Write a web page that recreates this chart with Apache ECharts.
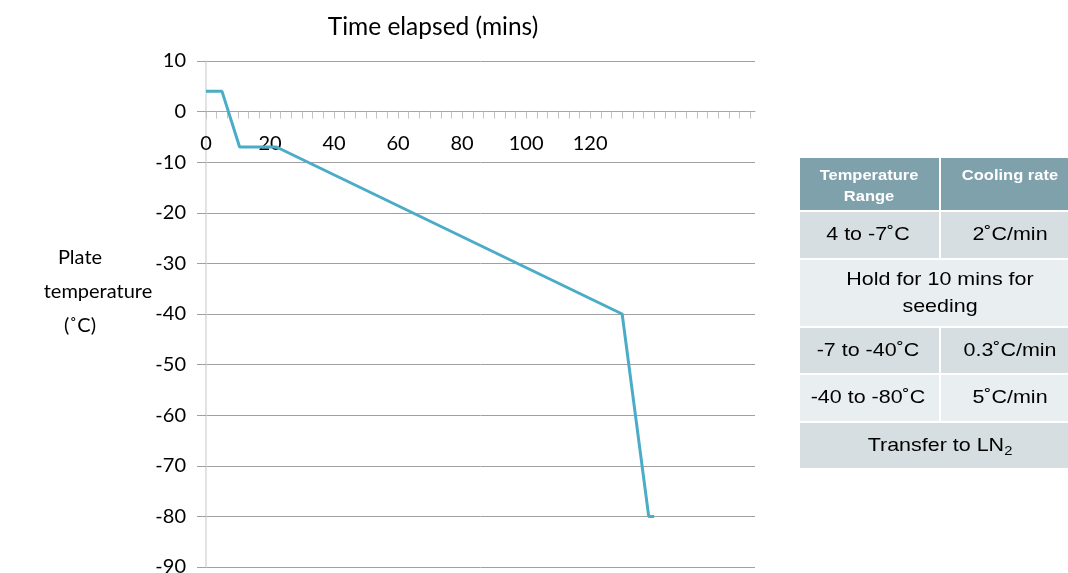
<!DOCTYPE html>
<html>
<head>
<meta charset="utf-8">
<script src="https://cdn.jsdelivr.net/npm/echarts@6/dist/echarts.min.js"></script>
<style>html,body{margin:0;padding:0;background:#fff}#c{width:1068px;height:573px}</style>
</head>
<body>
<div id="c"></div>
<script>
// Data
var timeMins = [0, 5, 10.5, 22, 130, 138.3, 140];
var plateTemp = [4, 4, -7, -7, -40, -80, -80];
var xLabelValues = [0, 20, 40, 60, 80, 100, 120];
var yTicks = [10, 0, -10, -20, -30, -40, -50, -60, -70, -80, -90];
var tableHeader = ['Temperature\nRange', 'Cooling rate'];
var tableRows = [
  ['4 to -7˚C', '2˚C/min'],
  ['Hold for 10 mins for\nseeding'],
  ['-7 to -40˚C', '0.3˚C/min'],
  ['-40 to -80˚C', '5˚C/min'],
  ['Transfer to LN{s|2}']
];

var tickValues = [];
for (var i = 0; i <= 51; i++) tickValues.push(+(i * 10 / 3).toFixed(4));

var FONT = 'Lato';
var chart = echarts.init(document.getElementById('c'), null, {renderer: 'canvas'});

// layout
var gridLeft = 206, gridRight = 313, gridTop = 61, gridBottom = 6;
var plotH = 573 - gridTop - gridBottom;
var yMin = yTicks[yTicks.length - 1], yMax = yTicks[0];
var zeroOffset = -plotH * (0 - yMin) / (yMax - yMin);

// table geometry
var tx0 = 800, tx1 = 1068, tcol = 940;
var rowsY = [[158, 210], [212, 258], [260, 326], [328, 373], [375, 421], [423, 468]];
var rowColors = ['#7fa1ab', '#d6dee1', '#e9eef0', '#d6dee1', '#e9eef0', '#d6dee1'];
var graphics = [];
graphics.push({type: 'text', x: 433, y: 27, style: {text: 'Time elapsed (mins)', font: '24.5px ' + FONT, fill: '#000', align: 'center', verticalAlign: 'middle'}});
graphics.push({type: 'text', x: 80, y: 258, style: {text: 'Plate', font: '20px ' + FONT, fill: '#000', align: 'center', verticalAlign: 'middle'}});
graphics.push({type: 'text', x: 98, y: 292, style: {text: 'temperature', font: '20px ' + FONT, fill: '#000', align: 'center', verticalAlign: 'middle'}});
graphics.push({type: 'text', x: 80, y: 326, style: {text: '(˚C)', font: '20px ' + FONT, fill: '#000', align: 'center', verticalAlign: 'middle'}});

var allRows = [tableHeader].concat(tableRows);
allRows.forEach(function (row, r) {
  var y0 = rowsY[r][0], y1 = rowsY[r][1];
  var isHeader = r === 0;
  if (row.length === 2) {
    graphics.push({type: 'rect', shape: {x: tx0, y: y0, width: tcol - tx0 - 1, height: y1 - y0}, style: {fill: rowColors[r]}});
    graphics.push({type: 'rect', shape: {x: tcol + 1, y: y0, width: tx1 - tcol - 1, height: y1 - y0}, style: {fill: rowColors[r]}});
    var cx = isHeader ? [869, 1010] : [868, 1010];
    row.forEach(function (t, k) {
      graphics.push({type: 'text', x: cx[k], y: isHeader ? y0 + 7 : (y0 + y1) / 2, scaleX: isHeader ? 1.1 : 1.13,
        style: {text: t, font: (isHeader ? 'bold 15px ' : '19px ') + 'Liberation Sans', fill: isHeader ? '#fff' : '#000',
          align: 'center', verticalAlign: isHeader ? 'top' : 'middle', lineHeight: isHeader ? 21 : 27}});
    });
  } else {
    graphics.push({type: 'rect', shape: {x: tx0, y: y0, width: tx1 - tx0, height: y1 - y0}, style: {fill: rowColors[r]}});
    graphics.push({type: 'text', x: 940, y: (y0 + y1) / 2, scaleX: 1.13,
      style: {text: row[0], font: '19px Liberation Sans', fill: '#000', align: 'center', verticalAlign: 'middle', lineHeight: 27,
        rich: {s: {font: '13px Liberation Sans', fill: '#000', padding: [12, 0, 0, 0]}}}});
  }
});

chart.setOption({
  animation: false,
  grid: {left: gridLeft, right: gridRight, top: gridTop, bottom: gridBottom, containLabel: false, outerBoundsMode: 'none'},
  xAxis: {
    type: 'value', min: 0, max: 171.5, position: 'bottom', offset: zeroOffset,
    axisLine: {onZero: false, lineStyle: {color: '#a6a6a6', width: 1}},
    axisTick: {show: true, inside: false, length: 7, lineStyle: {color: '#c4c4c4', width: 1}, customValues: tickValues},
    axisLabel: {customValues: xLabelValues, margin: 22, fontFamily: FONT, fontSize: 20, color: '#000'},
    splitLine: {show: false}
  },
  yAxis: {
    type: 'value', min: yMin, max: yMax, interval: 10,
    axisLine: {show: true, onZero: false, lineStyle: {color: '#d9d9d9', width: 1.5}},
    axisTick: {show: true, length: 9, lineStyle: {color: '#a0a0a0'}},
    axisLabel: {margin: 20, fontFamily: FONT, fontSize: 20, color: '#000'},
    splitLine: {show: true, lineStyle: {color: '#a0a0a0', width: 1}}
  },
  series: [{
    type: 'line',
    data: timeMins.map(function (t, i) { return [t, plateTemp[i]]; }),
    showSymbol: false,
    lineStyle: {color: '#4aacc6', width: 3},
    z: 5
  }],
  graphic: graphics
});
</script>
</body>
</html>
